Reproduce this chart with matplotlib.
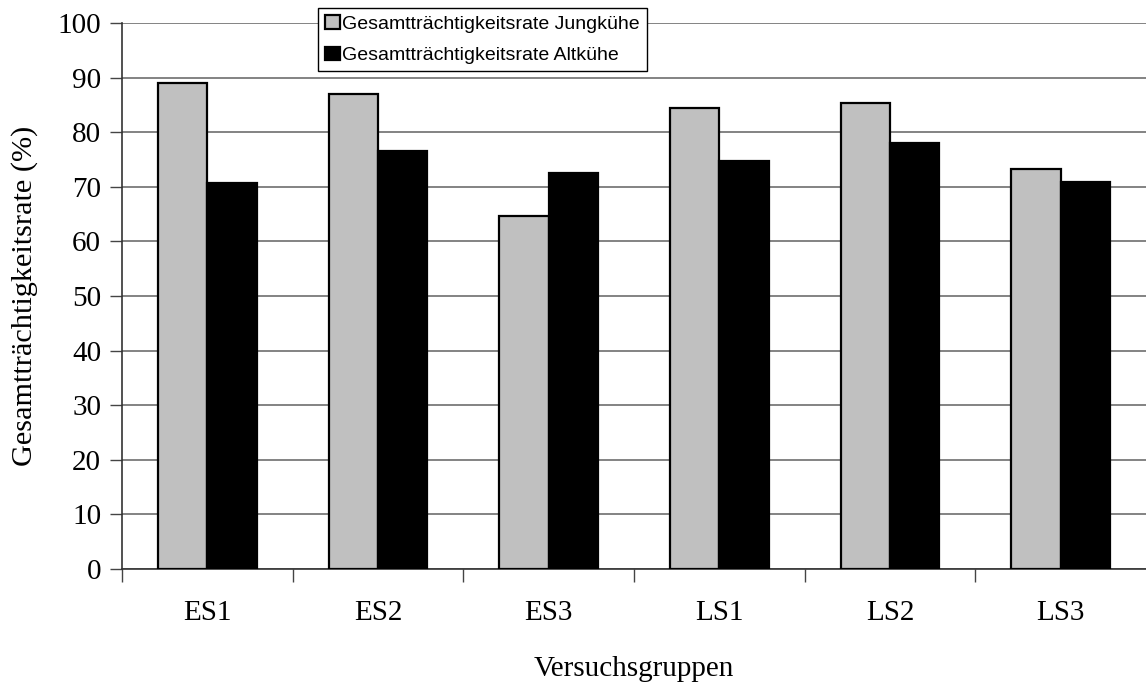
import numpy as np
import matplotlib
matplotlib.use("Agg")
import matplotlib.pyplot as plt

groups = ["ES1", "ES2", "ES3", "LS1", "LS2", "LS3"]
jungkuehe = [89.0, 87.0, 64.7, 84.5, 85.4, 73.2]
altkuehe = [70.7, 76.6, 72.5, 74.8, 78.0, 70.9]

plt.rcParams['font.family'] = ['Liberation Serif', 'DejaVu Serif']

fig = plt.figure(figsize=(11.46, 6.83), dpi=100)
ax = fig.add_axes([122 / 1146, 114 / 683, 1024 / 1146, 546 / 683])

x = np.arange(len(groups)) + 0.5
w = 0.29
ax.bar(x - w / 2, jungkuehe, w, color='#c0c0c0', edgecolor='black', linewidth=1.6,
       label='Gesamtträchtigkeitsrate Jungkühe', zorder=3)
ax.bar(x + w / 2, altkuehe, w, color='black', edgecolor='black', linewidth=1.6,
       label='Gesamtträchtigkeitsrate Altkühe', zorder=3)

ax.set_xlim(0, len(groups))
ax.set_ylim(0, 100)
ax.set_yticks(np.arange(0, 101, 10))
ax.yaxis.grid(True, color='#6e6e6e', linewidth=1.2, zorder=0)
ax.set_axisbelow(True)

# category boundaries get the ticks, names sit in between
ax.set_xticks(np.arange(0, len(groups)))
ax.set_xticklabels([])
ax.set_xticks(x, minor=True)
ax.set_xticklabels(groups, minor=True)
ax.tick_params(axis='x', which='minor', length=0, pad=22, labelsize=21)
ax.tick_params(axis='x', which='major', length=9, width=1, direction='out', color='#444444')
ax.tick_params(axis='y', length=9, width=1, direction='out', labelsize=21, pad=6, color='#444444')

for side in ['top', 'right']:
    ax.spines[side].set_visible(False)
ax.spines['left'].set_color('#333333')
ax.spines['bottom'].set_color('#333333')
ax.spines['left'].set_linewidth(1.2)
ax.spines['bottom'].set_linewidth(1.2)

ax.set_ylabel('Gesamtträchtigkeitsrate (%)', fontsize=21.8, labelpad=14)
ax.set_xlabel('Versuchsgruppen', fontsize=21, labelpad=22)

leg = fig.legend(loc='upper left', bbox_to_anchor=(318 / 1146, 1 - 8 / 683),
                 prop={'family': 'Liberation Sans', 'size': 14},
                 frameon=True, fancybox=False, edgecolor='black', framealpha=1,
                 handlelength=0.75, handleheight=0.7, handletextpad=0.15,
                 labelspacing=0.72, borderpad=0.36, borderaxespad=0)
leg.get_frame().set_linewidth(1.0)
for h in leg.legend_handles:
    h.set_linewidth(1.6)

fig.savefig('out.png', dpi=100)
